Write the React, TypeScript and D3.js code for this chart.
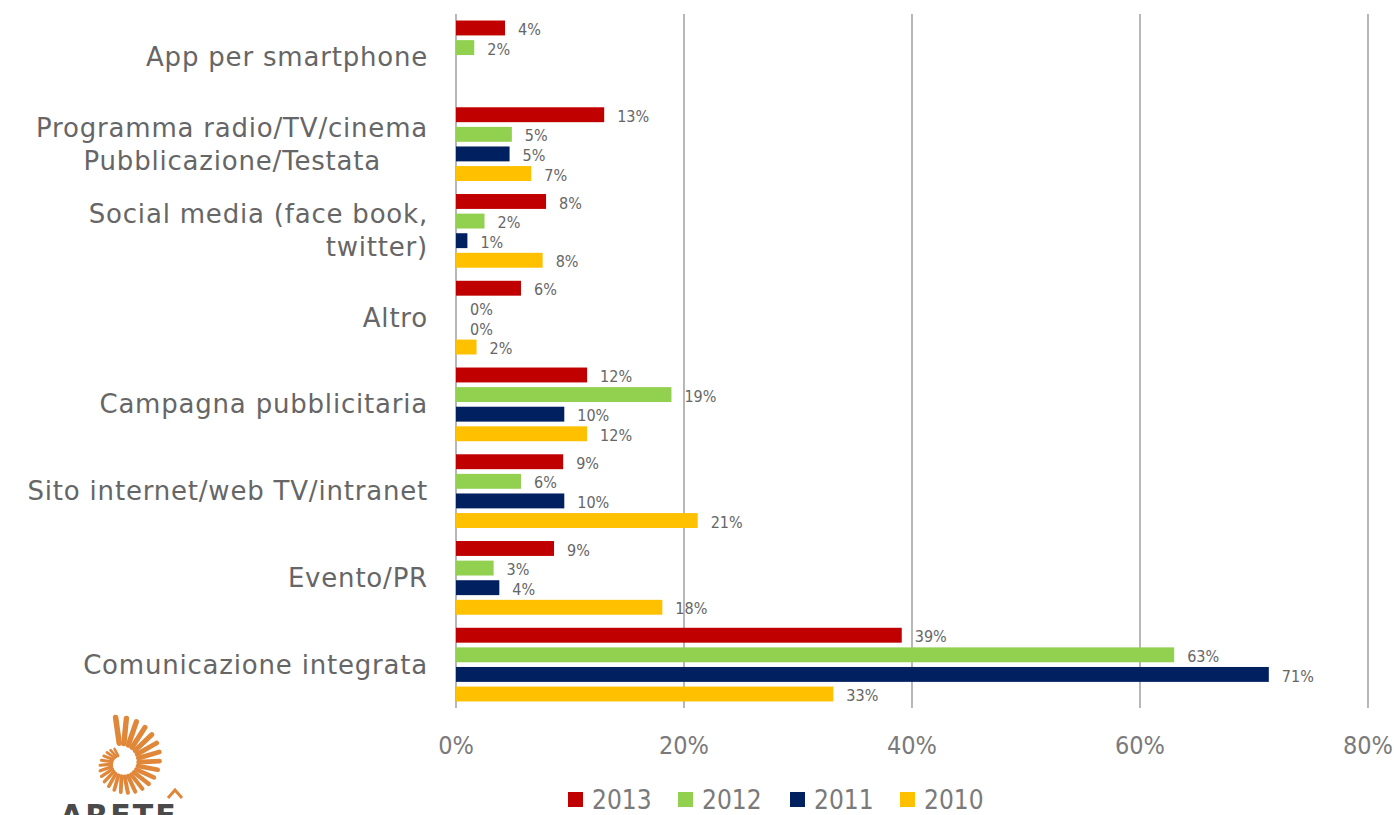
import React from "react";
import * as d3 from "d3";

const categories = [
  ["App per smartphone"],
  ["Programma radio/TV/cinema", "Pubblicazione/Testata"],
  ["Social media (face book,", "twitter)"],
  ["Altro"],
  ["Campagna pubblicitaria"],
  ["Sito internet/web TV/intranet"],
  ["Evento/PR"],
  ["Comunicazione integrata"],
];
const series = ["2013", "2012", "2011", "2010"];
const colors = ["#C00000", "#92D050", "#002060", "#FFC000"];
// values per category, in series order; null = not present
const values2013 = [4.3, 13, 7.9, 5.7, 11.5, 9.4, 8.6, 39.1];
const values2012 = [1.6, 4.9, 2.5, 0, 18.9, 5.7, 3.3, 63];
const values2011 = [null, 4.7, 1, 0, 9.5, 9.5, 3.8, 71.3];
const values2010 = [null, 6.6, 7.6, 1.8, 11.5, 21.2, 18.1, 33.1];
const labels2013 = ["4%", "13%", "8%", "6%", "12%", "9%", "9%", "39%"];
const labels2012 = ["2%", "5%", "2%", "0%", "19%", "6%", "3%", "63%"];
const labels2011 = [null, "5%", "1%", "0%", "10%", "10%", "4%", "71%"];
const labels2010 = [null, "7%", "8%", "2%", "12%", "21%", "18%", "33%"];
const xTicks = [0, 20, 40, 60, 80];

const allValues = [values2013, values2012, values2011, values2010];
const allLabels = [labels2013, labels2012, labels2011, labels2010];

const W = 1394;
const H = 815;
const left = 456;
const right = 1368;
const top = 14;
const bottom = 708;

export default function App() {
  const x = d3.scaleLinear().domain([0, 80]).range([left, right]);
  const y = d3
    .scaleBand<number>()
    .domain(categories.map((_, i) => i))
    .range([top, bottom]);
  const innerLen = 73.7;
  const pad = (y.bandwidth() - innerLen) / 2;
  const inner = d3
    .scaleBand<string>()
    .domain(series)
    .range([pad, pad + innerLen])
    .paddingInner(0.24)
    .paddingOuter(0);

  const gray = "#666666";

  // logo rays
  const rays: { x1: number; y1: number; x2: number; y2: number; w: number }[] = [];
  const N = 26;
  const cx = 122;
  const cy = 763;
  for (let i = 0; i < N; i++) {
    const t = i / (N - 1);
    const ang = ((-98 + t * 340) * Math.PI) / 180;
    const rOut = 46 - t * 30;
    const rIn = 20 - t * 12;
    rays.push({
      x1: cx + Math.cos(ang) * rIn,
      y1: cy + Math.sin(ang) * rIn,
      x2: cx + Math.cos(ang) * rOut,
      y2: cy + Math.sin(ang) * rOut,
      w: 5.5 - t * 3,
    });
  }

  const legendX = [568, 678, 790, 900];

  return (
    <svg
      width={W}
      height={H}
      style={{ position: "absolute", left: 0, top: 0, background: "#fff" }}
      fontFamily="'DejaVu Sans', sans-serif"
    >
      {/* gridlines */}
      {xTicks.map((t) => (
        <line
          key={t}
          x1={x(t)}
          x2={x(t)}
          y1={top}
          y2={bottom}
          stroke="#A6A6A6"
          strokeWidth={1.6}
        />
      ))}
      {/* bars */}
      {categories.map((_, ci) =>
        series.map((s, si) => {
          const v = allValues[si][ci];
          const lab = allLabels[si][ci];
          if (v === null || lab === null) return null;
          const by = (y(ci) as number) + (inner(s) as number);
          const bh = inner.bandwidth();
          return (
            <g key={ci + "-" + s}>
              {v > 0 && (
                <rect x={x(0)} y={by} width={x(v) - x(0)} height={bh} fill={colors[si]} />
              )}
              <text
                x={x(v) + (v > 0 ? 13 : 14)}
                y={by + bh / 2 + 1.5}
                dy="0.35em"
                fontSize={16}
                fill={gray}
                fontFamily="'DejaVu Sans Condensed', 'Liberation Sans Narrow', sans-serif"
              >
                {lab}
              </text>
            </g>
          );
        })
      )}
      {/* category labels */}
      {categories.map((lines, ci) => {
        const c = (y(ci) as number) + y.bandwidth() / 2;
        const lh = 33;
        const start = c - ((lines.length - 1) * lh) / 2;
        return (
          <text key={ci} textAnchor="end" fontSize={26} fill={gray} letterSpacing={0.8}>
            {lines.map((l, li) => (
              <tspan
                key={li}
                x={ci === 1 && li === 1 ? 381 : 428}
                y={start + li * lh}
                dy="0.35em"
              >
                {l}
              </tspan>
            ))}
          </text>
        );
      })}
      {/* x tick labels */}
      {xTicks.map((t) => (
        <text
          key={t}
          x={x(t)}
          y={745}
          dy="0.35em"
          textAnchor="middle"
          fontSize={25}
          fill="#7a7a7a"
          fontFamily="'DejaVu Sans Condensed', sans-serif"
        >
          {t + "%"}
        </text>
      ))}
      {/* legend */}
      {series.map((s, si) => (
        <g key={s}>
          <rect x={legendX[si]} y={792} width={15} height={15} fill={colors[si]} />
          <text
            x={legendX[si] + 24}
            y={800}
            dy="0.35em"
            fontSize={26}
            fill="#7a7a7a"
            fontFamily="'DejaVu Sans Condensed', sans-serif"
          >
            {s}
          </text>
        </g>
      ))}
      {/* logo */}
      {rays.map((r, i) => (
        <line
          key={i}
          x1={r.x1}
          y1={r.y1}
          x2={r.x2}
          y2={r.y2}
          stroke="#E0873A"
          strokeWidth={r.w}
          strokeLinecap="round"
        />
      ))}
      <path d="M168,798 L175,790 L182,798" fill="none" stroke="#E0873A" strokeWidth={3} />
      <text x={60} y={826} fontSize={30} fontWeight="bold" fill="#4a4a4a" letterSpacing={2}>
        ARETE
      </text>
    </svg>
  );
}
